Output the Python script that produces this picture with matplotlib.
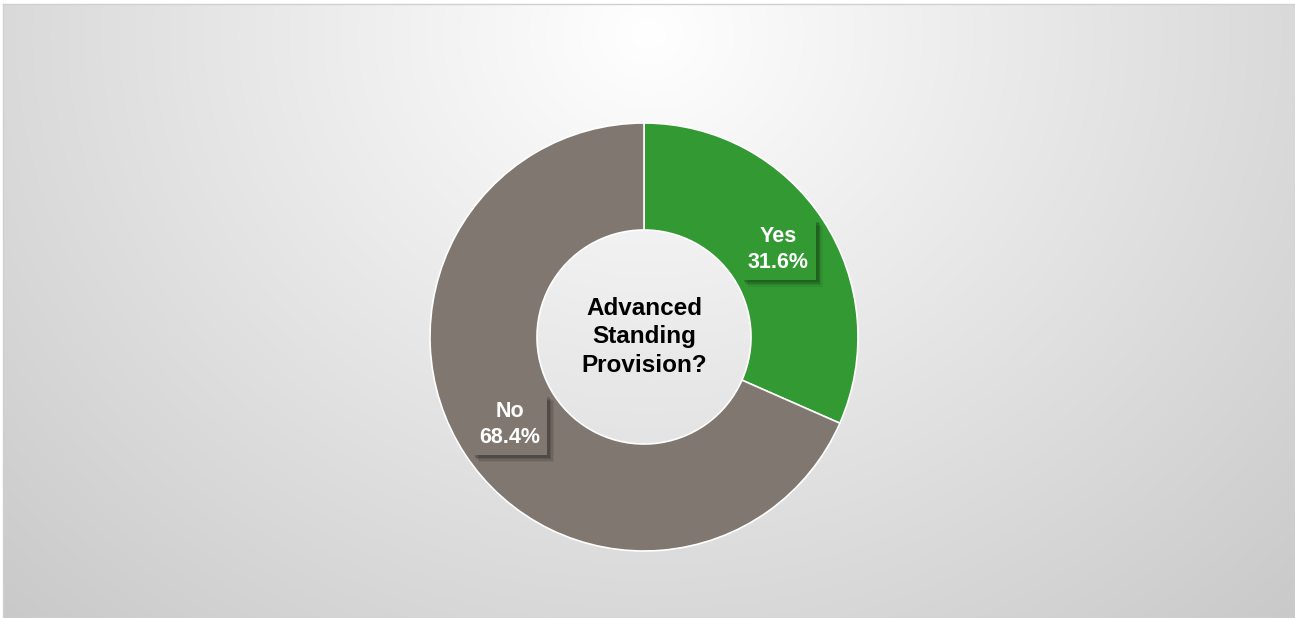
import numpy as np
import matplotlib
matplotlib.use("Agg")
import matplotlib.pyplot as plt
import matplotlib.patheffects as pe

categories = ["Yes", "No"]
values = [31.6, 68.4]
colors = ["#339933", "#7f7770"]
center_title = "Advanced\nStanding\nProvision?"

W, H = 1295, 618
fig = plt.figure(figsize=(W / 100, H / 100), dpi=100)
fig.patch.set_facecolor("white")

# background with radial gradient
bg = fig.add_axes([3 / W, 0, 1 - 3 / W, (H - 4) / H])
yy, xx = np.mgrid[0:H, 0:W]
d = np.sqrt(((xx - 647) / 720.0) ** 2 + ((yy - 30) / 640.0) ** 2)
shade = np.clip(255 - 42 * d, 0, 255) / 255.0
img = np.dstack([shade, shade, shade])
bg.imshow(img, aspect="auto", extent=[0, 1, 0, 1], origin="upper")
bg.set_xlim(0, 1)
bg.set_ylim(0, 1)
bg.set_xticks([])
bg.set_yticks([])
for s in bg.spines.values():
    s.set_color("#d0d0d0")
    s.set_linewidth(1)

# donut
cx, cy, R = 644, H - 337, 214
ax = fig.add_axes([(cx - R) / W, (cy - R) / H, 2 * R / W, 2 * R / H])
ax.set_facecolor("none")
wedges, _ = ax.pie(values, colors=colors, startangle=90, counterclock=False,
                   radius=1, wedgeprops=dict(width=0.5, edgecolor="white", linewidth=1.2))
ax.set_xlim(-1, 1)
ax.set_ylim(-1, 1)
ax.set_aspect("equal")
ax.axis("off")

shadow_fx = [pe.SimplePatchShadow(offset=(o, -o), shadow_rgbFace="black", alpha=a)
             for o, a in [(5, 0.06), (4, 0.09), (3, 0.12), (2, 0.15)]] + [pe.Normal()]

# labels
start = 90.0
total = sum(values)
for cat, v, col in zip(categories, values, colors):
    mid = start - v / total * 360 / 2
    start -= v / total * 360
    r = 0.75
    x = r * np.cos(np.radians(mid))
    y = r * np.sin(np.radians(mid))
    t = ax.text(x, y, f"{cat}\n{v:.1f}%", ha="center", va="center",
                fontsize=15.5, fontweight="bold", color="white",
                family=["Liberation Sans", "DejaVu Sans"], linespacing=1.3,
                bbox=dict(boxstyle="square,pad=0.32", facecolor=col, edgecolor="none"))
    t.get_bbox_patch().set_path_effects(shadow_fx)

ax.text(0, 0, center_title, ha="center", va="center", fontsize=17.5,
        fontweight="bold", color="black", family=["Liberation Sans", "DejaVu Sans"],
        linespacing=1.28)

fig.savefig("out.png", dpi=100)
